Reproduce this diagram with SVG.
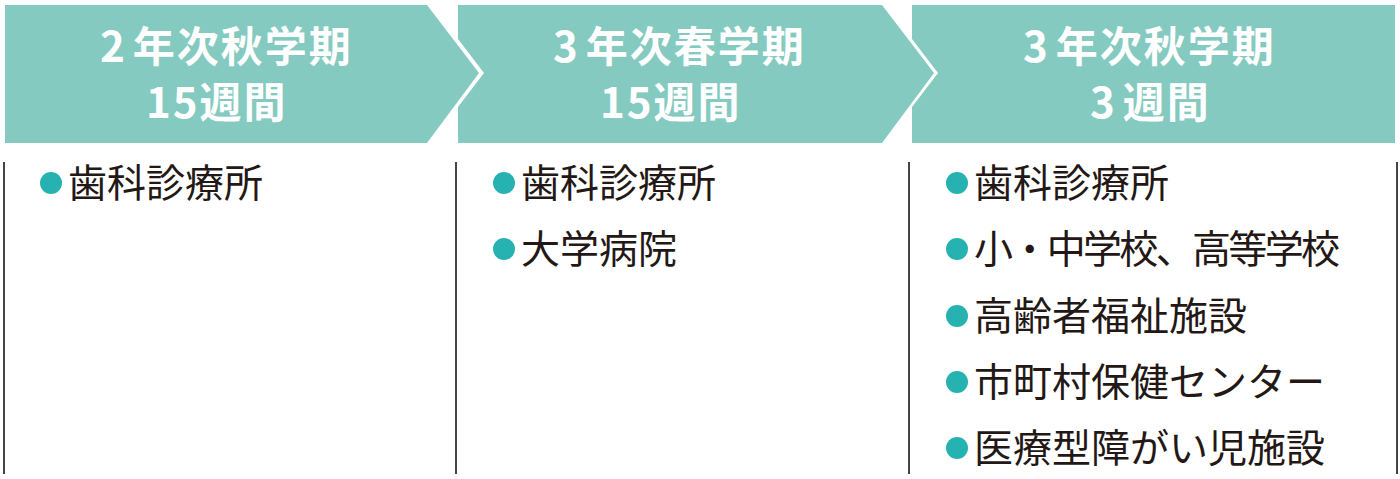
<svg xmlns="http://www.w3.org/2000/svg" width="1400" height="479" viewBox="0 0 1400 479">
<style>
.hdr{fill:#85CAC0}
.ht{font-family:"Noto Sans CJK JP","Noto Sans",sans-serif;font-weight:700;font-size:42px;letter-spacing:2px;fill:#FFFFFF}
.it{font-family:"Noto Sans CJK JP","Noto Sans",sans-serif;font-weight:400;font-size:39px;fill:#231815}
.dot{fill:#26B2B0}
.div{stroke:#4A4242;stroke-width:2;fill:none}
</style>
<rect width="1400" height="479" fill="#FFFFFF"/>
<g id="dividers">
<line class="div" x1="4" y1="162" x2="4" y2="474"/>
<line class="div" x1="456" y1="162" x2="456" y2="474"/>
<line class="div" x1="909" y1="162" x2="909" y2="474"/>
<line class="div" x1="1397" y1="162" x2="1397" y2="474"/>
</g>
<g id="term1">
<polygon class="hdr" points="5,5 427,5 479,73 427,143 5,143"/>
<text class="ht" x="100" y="62">2<tspan dx="6">年次秋学期</tspan></text>
<text class="ht" x="146" y="118">15週間</text>
<g id="term1-items">
<circle class="dot" cx="51" cy="183" r="11"/>
<text class="it" x="68" y="197">歯科診療所</text>
</g>
</g>
<g id="term2">
<polygon class="hdr" points="458,5 882,5 934,73 882,143 458,143 458,107 484,73 458,39"/>
<text class="ht" x="553" y="62">3<tspan dx="6">年次春学期</tspan></text>
<text class="ht" x="600" y="118">15週間</text>
<g id="term2-items">
<circle class="dot" cx="504" cy="183" r="11"/>
<text class="it" x="521" y="197">歯科診療所</text>
<circle class="dot" cx="504" cy="249" r="11"/>
<text class="it" x="521" y="263">大学病院</text>
</g>
</g>
<g id="term3">
<polygon class="hdr" points="912,5 1395,5 1395,143 912,143 912,107 938,73 912,39"/>
<text class="ht" x="1023" y="62">3<tspan dx="6">年次秋学期</tspan></text>
<text class="ht" x="1090" y="118">3<tspan dx="6">週間</tspan></text>
<g id="term3-items">
<circle class="dot" cx="957" cy="183" r="11"/>
<text class="it" x="974" y="197">歯科診療所</text>
<circle class="dot" cx="957" cy="249" r="11"/>
<text class="it" x="974" y="263" textLength="366" lengthAdjust="spacing">小・中学校、高等学校</text>
<circle class="dot" cx="957" cy="316" r="11"/>
<text class="it" x="974" y="330">高齢者福祉施設</text>
<circle class="dot" cx="957" cy="382" r="11"/>
<text class="it" x="974" y="396">市町村保健センター</text>
<circle class="dot" cx="957" cy="448" r="11"/>
<text class="it" x="974" y="462">医療型障がい児施設</text>
</g>
</g>
</svg>
